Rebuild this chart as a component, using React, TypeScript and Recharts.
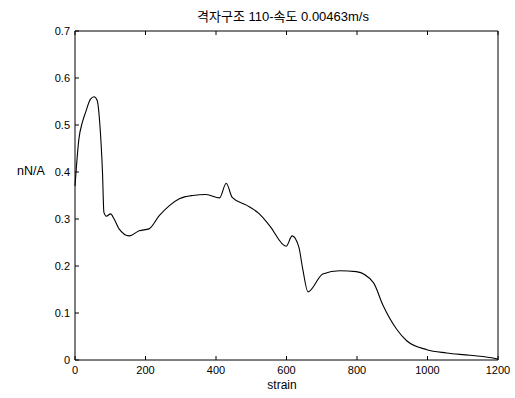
import React from 'react';
import { LineChart, Line, XAxis, YAxis } from 'recharts';

const strain = [0, 11, 21, 30, 44, 54, 63, 70, 78, 82, 89, 101, 111, 125, 154, 182, 210, 239, 267, 296, 334, 372, 410, 429, 446, 485, 523, 552, 599, 616, 635, 646, 661, 703, 751, 798, 846, 874, 912, 941, 998, 1054, 1120, 1192, 1200];
const force = [0.37, 0.47, 0.506, 0.527, 0.555, 0.56, 0.552, 0.506, 0.399, 0.314, 0.306, 0.311, 0.3, 0.279, 0.264, 0.275, 0.279, 0.307, 0.328, 0.343, 0.35, 0.352, 0.345, 0.376, 0.346, 0.33, 0.311, 0.286, 0.242, 0.264, 0.24, 0.194, 0.145, 0.183, 0.19, 0.188, 0.165, 0.116, 0.066, 0.041, 0.022, 0.015, 0.01, 0.003, 0.001];

const xTicks = [0, 200, 400, 600, 800, 1000, 1200];
const yTicks = [0, 0.1, 0.2, 0.3, 0.4, 0.5, 0.6, 0.7];

const title = '격자구조 110-속도 0.00463m/s';
const xLabel = 'strain';
const yLabel = 'nN/A';

const data = strain.map((s, i) => ({ strain: s, force: force[i] }));

const FONT = '"Liberation Sans", Arial, "Noto Sans CJK KR", sans-serif';
const TL = 4;

const BottomTick = (p: any) => (
  <g>
    <line x1={p.x} x2={p.x} y1={p.y} y2={p.y - TL} stroke="#000" />
    <text x={p.x} y={p.y + 14} textAnchor="middle" fontSize={11} fontFamily={FONT} fill="#000">{p.payload.value}</text>
  </g>
);
const TopTick = (p: any) => (
  <line x1={p.x} x2={p.x} y1={p.y} y2={p.y + TL} stroke="#000" />
);
const LeftTick = (p: any) => (
  <g>
    <line x1={p.x} x2={p.x + TL} y1={p.y} y2={p.y} stroke="#000" />
    <text x={p.x - 5} y={p.y + 4} textAnchor="end" fontSize={11} fontFamily={FONT} fill="#000">{p.payload.value === 0 ? '0' : Number(p.payload.value).toFixed(1)}</text>
  </g>
);
const RightTick = (p: any) => (
  <line x1={p.x} x2={p.x - TL} y1={p.y} y2={p.y} stroke="#000" />
);

export default function App() {
  return (
    <div style={{ position: 'absolute', left: 0, top: 0, width: 515, height: 398, background: '#fff' }}>
      <LineChart width={515} height={398} data={data} margin={{ top: 30, right: 16, bottom: 8, left: 35 }}>
        <XAxis
          xAxisId="b"
          dataKey="strain"
          type="number"
          domain={[0, 1200]}
          ticks={xTicks}
          tick={BottomTick}
          tickLine={false}
          tickSize={0}
          tickMargin={0}
          height={30}
          stroke="#000"
        />
        <XAxis
          xAxisId="t"
          orientation="top"
          dataKey="strain"
          type="number"
          domain={[0, 1200]}
          ticks={xTicks}
          tick={TopTick}
          tickLine={false}
          tickSize={0}
          tickMargin={0}
          height={1}
          stroke="#000"
        />
        <YAxis
          yAxisId="l"
          type="number"
          domain={[0, 0.7]}
          ticks={yTicks}
          tick={LeftTick}
          tickLine={false}
          tickSize={0}
          tickMargin={0}
          width={40}
          stroke="#000"
        />
        <YAxis
          yAxisId="r"
          orientation="right"
          type="number"
          domain={[0, 0.7]}
          ticks={yTicks}
          tick={RightTick}
          tickLine={false}
          tickSize={0}
          tickMargin={0}
          width={1}
          stroke="#000"
        />
        <Line
          xAxisId="b"
          yAxisId="l"
          dataKey="force"
          type="monotone"
          stroke="#000"
          strokeWidth={1.1}
          dot={false}
          isAnimationActive={false}
        />
      </LineChart>
      <div style={{ position: 'absolute', left: 0, width: 566, top: 6, textAlign: 'center', fontFamily: FONT, fontSize: 13 }}>{title}</div>
      <div style={{ position: 'absolute', left: 0, width: 564, top: 378, textAlign: 'center', fontFamily: FONT, fontSize: 12 }}>{xLabel}</div>
      <div style={{ position: 'absolute', left: 17, top: 164, fontFamily: FONT, fontSize: 12.5 }}>{yLabel}</div>
    </div>
  );
}
